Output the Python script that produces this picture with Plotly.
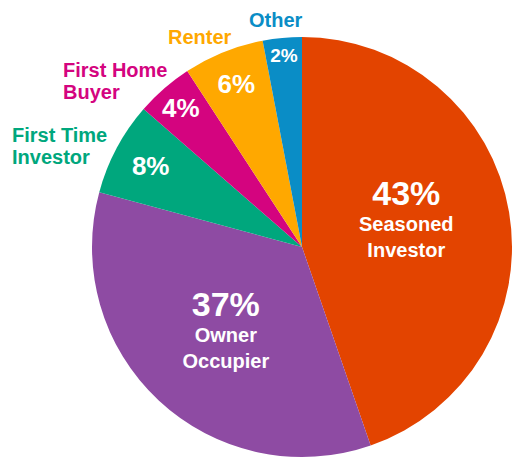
import plotly.graph_objects as go

W, H = 512, 458

# slices, clockwise from 12 o'clock
segments = ["Seasoned Investor", "Owner Occupier", "First Time Investor",
            "First Home Buyer", "Renter", "Other"]
shares = [44.7, 34.5, 7.2, 4.4, 6.2, 3.0]          # drawn size of each slice
pct_labels = ["43%", "37%", "8%", "4%", "6%", "2%"]  # printed percentages
colors = ["#E34400", "#8E4BA3", "#00A77D", "#D4047F", "#FFA800", "#0A8DC6"]

# names written outside the pie for the small slices (one entry per line)
outer_lines = [
    ("First Time", 2, 10, 134.5),
    ("Investor", 2, 10, 156.5),
    ("First Home", 3, 61, 70),
    ("Buyer", 3, 61, 92),
    ("Renter", 4, 166, 36.5),
    ("Other", 5, 247, 20.5),
]

# tiny blank line under the big label nudges it up a bit
pad = {"Seasoned Investor": 8, "Owner Occupier": 0}

inside_text = []
for seg, pct in zip(segments, pct_labels):
    if seg in pad:
        name = seg.replace(" ", "<br>")
        t = "<span style='font-size:34px'>" + pct + "</span><br>" + name
        if pad[seg]:
            t += "<br><span style='font-size:%dpx'>&nbsp;</span>" % pad[seg]
        inside_text.append(t)
    else:
        inside_text.append(pct)

fig = go.Figure()
fig.add_trace(go.Pie(
    labels=segments, values=shares, sort=False, direction="clockwise",
    marker=dict(colors=colors, line=dict(width=0)),
    text=inside_text, textinfo="text", textposition="inside",
    insidetextorientation="horizontal",
    textfont=dict(family="Liberation Sans", size=[20, 20, 26, 26, 26, 19],
                  color="white", weight="bold"),
    domain=dict(x=[92 / W, 1], y=[0, 1 - 36 / H]),
    showlegend=False, hoverinfo="label+value",
))

for txt, idx, px, py in outer_lines:
    fig.add_annotation(
        text=txt, xref="paper", yref="paper",
        x=px / W, y=1 - py / H, xanchor="left", yanchor="middle",
        showarrow=False, align="left",
        font=dict(family="Liberation Sans", size=20, color=colors[idx], weight="bold"),
    )

fig.update_layout(
    width=W, height=H,
    margin=dict(l=0, r=0, t=0, b=0),
    paper_bgcolor="white",
)
fig.write_html("out.html", config={"displayModeBar": False},
               post_script="document.body.style.margin='0';")
